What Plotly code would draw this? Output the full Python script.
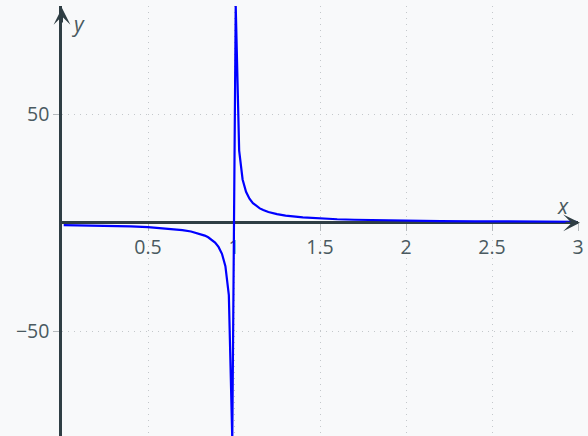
import plotly.graph_objects as go

# Sampled points of the hyperbola on both sides of the vertical asymptote at x = 1
x_vals = [0.01, 0.1, 0.2, 0.3, 0.4, 0.5, 0.6, 0.7, 0.75, 0.8, 0.83, 0.85, 0.87,
          0.89, 0.91, 0.93, 0.95, 0.97, 0.99,
          1.01, 1.03, 1.05, 1.07, 1.09, 1.11, 1.13, 1.15, 1.17, 1.2, 1.25, 1.3,
          1.4, 1.5, 1.6, 1.7, 1.8, 2.0, 2.2, 2.4, 2.6, 2.8, 2.99]
y_vals = [-1.01, -1.111, -1.25, -1.429, -1.667, -2.0, -2.5, -3.333, -4.0, -5.0,
          -5.882, -6.667, -7.692, -9.091, -11.11, -14.29, -20.0, -33.33, -100.0,
          100.0, 33.33, 20.0, 14.29, 11.11, 9.091, 7.692, 6.667, 5.882, 5.0, 4.0,
          3.333, 2.5, 2.0, 1.667, 1.429, 1.25, 1.0, 0.833, 0.714, 0.625, 0.556, 0.503]

x_ticks = [0.5, 1, 1.5, 2, 2.5, 3]
x_tick_text = ["0.5", "1", "1.5", "2", "2.5", "3"]
y_ticks = [-50, 50]

x_range = [0, 3]
y_range = [-98.3, 100]

axis_col = "#2f3e44"
text_col = "#4a5a60"
grid_col = "#c4c8cb"
bg = "#f8f9fa"

fig = go.Figure()
fig.add_trace(go.Scatter(x=x_vals, y=y_vals, mode="lines",
                         line=dict(color="#0000ff", width=2.2),
                         hoverinfo="skip"))

fig.update_layout(
    width=588, height=436,
    margin=dict(l=62, r=10, t=6, b=0),
    paper_bgcolor=bg, plot_bgcolor=bg,
    showlegend=False,
    font=dict(family="Open Sans", size=19.5, color=text_col),
)

x_pos = (0 - y_range[0]) / (y_range[1] - y_range[0])
fig.update_xaxes(
    range=x_range, anchor="free", position=x_pos, layer="below traces",
    tickvals=x_ticks, ticktext=x_tick_text,
    showgrid=True, gridcolor=grid_col, griddash="1px,5px", gridwidth=1,
    ticks="outside", ticklen=7, tickcolor="#b5babd", tickwidth=1,
    showline=False, zeroline=False,
)
fig.update_yaxes(
    range=y_range, tickvals=y_ticks, layer="below traces",
    showgrid=True, gridcolor=grid_col, griddash="1px,5px", gridwidth=1,
    ticks="outside", ticklen=6, tickcolor="#b5babd", tickwidth=1,
    showline=True, linecolor=axis_col, linewidth=2.5,
    zeroline=True, zerolinecolor=axis_col, zerolinewidth=2.5,
)

# Arrowheads at the ends of both axes
fig.add_annotation(x=3, y=0, xref="x", yref="y", ax=-16, ay=0, text="",
                   showarrow=True, arrowhead=3, arrowsize=1.4, arrowwidth=2,
                   arrowcolor=axis_col, xshift=2)
fig.add_annotation(x=0, y=1, xref="x", yref="paper", ax=0, ay=16, text="",
                   showarrow=True, arrowhead=3, arrowsize=1.4, arrowwidth=2,
                   arrowcolor=axis_col, yshift=-2)

# Axis names
fig.add_annotation(x=(563 - 62) / 172, y=0, xref="x", yref="y", text="<i>x</i>",
                   showarrow=False, font=dict(size=21, color=text_col),
                   xanchor="center", yanchor="middle", yshift=17)
fig.add_annotation(x=0, y=1, xref="x", yref="paper", text="<i>y</i>",
                   showarrow=False, font=dict(size=21, color=text_col),
                   xanchor="center", yanchor="middle", xshift=16, yshift=-18)

fig.write_html("out.html")
